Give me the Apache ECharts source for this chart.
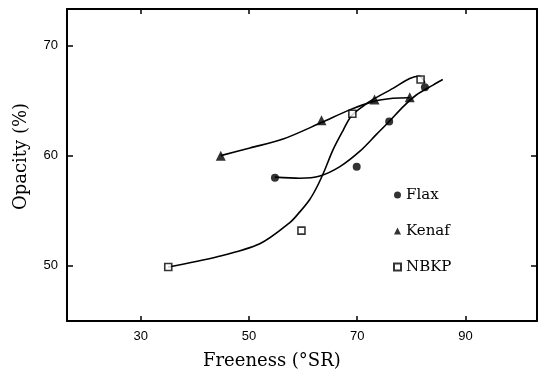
<!DOCTYPE html>
<html><head><meta charset="utf-8">
<script src="https://cdn.jsdelivr.net/npm/echarts@6/dist/echarts.min.js"></script>
<style>html,body{margin:0;padding:0;background:#fff}#c{width:546px;height:386px}</style>
</head><body><div id="c"></div>
<script>
// measured points
const flaxPts  = [[54.8,58.0],[69.9,59.0],[75.9,63.1],[82.5,66.2]];
const kenafPts = [[44.8,60.0],[63.4,63.2],[73.2,65.1],[79.7,65.3]];
const nbkpPts  = [[35.1,49.9],[59.7,53.2],[69.1,63.8],[81.7,66.9]];
// fitted curves
const flaxCurve  = [[54.8,58.05],[59.4,57.95],[63.1,58.15],[66.8,59.0],[70.5,60.4],[73.5,61.9],[75.9,63.1],[78.5,64.45],[80.9,65.5],[84.0,66.4],[85.8,66.9]];
const kenafCurve = [[44.8,60.0],[50.2,60.7],[56.3,61.5],[63.4,63.0],[68.6,64.15],[72.9,64.9],[76.6,65.2],[79.7,65.25]];
const nbkpCurve  = [[35.1,49.9],[44.0,50.8],[52.0,52.0],[57.5,53.9],[59.4,54.9],[61.2,56.0],[62.6,57.2],[64.0,58.7],[65.5,60.5],[67.4,62.3],[68.9,63.6],[71.1,64.5],[72.9,65.1],[76.6,66.1],[79.7,67.0],[81.5,67.2],[82.5,66.6]];
const xTicks = [30,50,70,90];
const yTicks = [50,60,70];
const names = ['Flax','Kenaf','NBKP'];

const chart = echarts.init(document.getElementById('c'), null, {renderer:'canvas'});
const black = '#000';
const lbl = {fontFamily:"'Liberation Sans Narrow','Liberation Sans',Arial,sans-serif", fontSize:13, color:black};
const serif = "'DejaVu Serif',serif";
function curve(name, data){
  return {name:name+' curve', type:'line', data:data, smooth:0.3, showSymbol:false, symbol:'none',
    lineStyle:{color:black, width:1.6}, silent:true, z:2};
}
chart.setOption({
  animation:false,
  backgroundColor:'#fff',
  grid:{left:67, right:9, top:9, bottom:65},
  legend:{
    data:[{name:names[0]},{name:names[1]},{name:names[2]}],
    orient:'vertical', left:388, top:182, itemGap:20, itemWidth:7, itemHeight:7,
    textStyle:{fontFamily:serif, fontSize:15, color:black, lineHeight:16}
  },
  xAxis:[{
    type:'value', min:16.4, max:103.2, position:'bottom',
    axisLine:{show:true, lineStyle:{color:black, width:2}},
    axisTick:{show:true, inside:true, length:5, customValues:xTicks, lineStyle:{color:black, width:1.5}},
    axisLabel:{customValues:xTicks, margin:9, ...lbl},
    splitLine:{show:false}
  },{
    type:'value', min:16.4, max:103.2, position:'top',
    axisLine:{show:true, lineStyle:{color:black, width:2}},
    axisTick:{show:true, inside:true, length:5, customValues:xTicks, lineStyle:{color:black, width:1.5}},
    axisLabel:{show:false}, splitLine:{show:false}
  }],
  yAxis:[{
    type:'value', min:45, max:73.3, position:'left',
    axisLine:{show:true, lineStyle:{color:black, width:2}},
    axisTick:{show:true, inside:true, length:6, customValues:yTicks, lineStyle:{color:black, width:1.5}},
    axisLabel:{customValues:yTicks, margin:9, ...lbl},
    splitLine:{show:false}
  },{
    type:'value', min:45, max:73.3, position:'right',
    axisLine:{show:true, lineStyle:{color:black, width:2}},
    axisTick:{show:true, inside:true, length:6, customValues:[50,60], lineStyle:{color:black, width:1.5}},
    axisLabel:{show:false}, splitLine:{show:false}
  }],
  graphic:[
    {type:'text', left:203, top:352, style:{text:'Freeness (°SR)', font:"18px 'DejaVu Serif', serif", fill:black}},
    {type:'text', x:12, y:210, rotation:Math.PI/2, style:{text:'Opacity (%)', font:"18px 'DejaVu Serif', serif", fill:black}}
  ],
  series:[
    curve('Flax', flaxCurve), curve('Kenaf', kenafCurve), curve('NBKP', nbkpCurve),
    {name:names[0], type:'scatter', data:flaxPts, symbol:'circle', symbolSize:8, itemStyle:{color:black}, z:5},
    {name:names[1], type:'scatter', data:kenafPts, symbol:'triangle', symbolSize:10, itemStyle:{color:black}, z:5},
    {name:names[2], type:'scatter', data:nbkpPts, symbol:'rect', symbolSize:7, itemStyle:{color:'#fff', borderColor:black, borderWidth:1.6}, z:5}
  ]
});
</script></body></html>
